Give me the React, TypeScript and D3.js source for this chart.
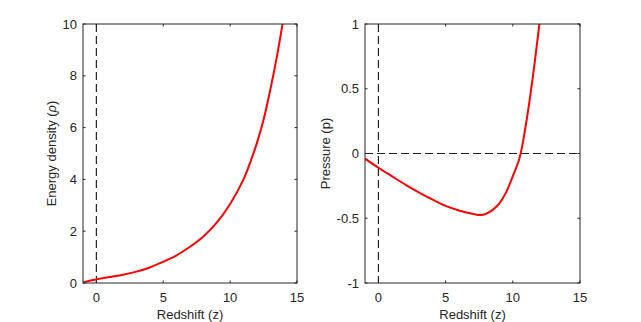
import React from 'react';
import * as d3 from 'd3';

const W = 641;
const H = 322;

// tick values
const zTicks = [0, 5, 10, 15];
const rhoTicks = [0, 2, 4, 6, 8, 10];
const pTicks = [-1, -0.5, 0, 0.5, 1];

// energy density vs redshift
const rhoZ = [-1, -0.5, 0, 1, 2, 3, 4, 5, 6, 7, 8, 9, 10, 11, 11.5, 12, 12.5, 13, 13.5, 14];
const rhoVals = [0.02, 0.09, 0.14, 0.23, 0.32, 0.44, 0.6, 0.82, 1.07, 1.4, 1.8, 2.33, 3.05, 4.0, 4.65, 5.4, 6.3, 7.45, 8.75, 10.25];

// pressure vs redshift
const pZ = [-1, 0, 1, 2, 3, 4, 5, 6, 7, 7.6, 8, 8.5, 9, 9.5, 10, 10.5, 11, 11.5, 12];
const pVals = [-0.04, -0.11, -0.175, -0.24, -0.3, -0.355, -0.405, -0.44, -0.465, -0.475, -0.466, -0.435, -0.385, -0.3, -0.175, -0.035, 0.24, 0.6, 1.02];

const FONT = '"Liberation Sans", Arial, Helvetica, sans-serif';
const INK = '#262626';

type PanelProps = {
  id: string;
  x0: number;
  x1: number;
  yDomain: [number, number];
  yTicks: number[];
  xs: number[];
  ys: number[];
  yLabel: React.ReactNode;
  yLabelX: number;
  zeroLine?: boolean;
};

const Panel = ({ id, x0, x1, yDomain, yTicks, xs, ys, yLabel, yLabelX, zeroLine }: PanelProps) => {
  const top = 24;
  const bottom = 283;
  const x = d3.scaleLinear().domain([-1, 15]).range([x0, x1]);
  const y = d3.scaleLinear().domain(yDomain).range([bottom, top]);
  const pts = xs.map((z, i) => [z, ys[i]] as [number, number]);
  const line = d3.line<[number, number]>()
    .x(d => x(d[0]))
    .y(d => y(d[1]))
    .curve(d3.curveCatmullRom.alpha(0.5));
  const tl = 2.5;

  return (
    <g>
      <defs>
        <clipPath id={id}>
          <rect x={x0} y={top} width={x1 - x0} height={bottom - top} />
        </clipPath>
      </defs>
      {/* dashed reference lines */}
      <line x1={x(0)} x2={x(0)} y1={top} y2={bottom} stroke="#222" strokeWidth={1.2} strokeDasharray="8,4" />
      {zeroLine && (
        <line x1={x0} x2={x1} y1={y(0)} y2={y(0)} stroke="#222" strokeWidth={1.2} strokeDasharray="8,4" />
      )}
      <path d={line(pts) || ''} fill="none" stroke="#ff0000" strokeWidth={2} clipPath={`url(#${id})`} />
      {/* box */}
      <rect x={x0} y={top} width={x1 - x0} height={bottom - top} fill="none" stroke={INK} strokeWidth={1} />
      {zTicks.map(t => (
        <g key={'x' + t}>
          <line x1={x(t)} x2={x(t)} y1={bottom} y2={bottom - tl} stroke={INK} />
          <line x1={x(t)} x2={x(t)} y1={top} y2={top + tl} stroke={INK} />
          <text x={x(t)} y={302} textAnchor="middle" fontSize={13} fill={INK}>{t}</text>
        </g>
      ))}
      {yTicks.map(t => (
        <g key={'y' + t}>
          <line x1={x0} x2={x0 + tl} y1={y(t)} y2={y(t)} stroke={INK} />
          <line x1={x1} x2={x1 - tl} y1={y(t)} y2={y(t)} stroke={INK} />
          <text x={x0 - 6} y={y(t) + 4.6} textAnchor="end" fontSize={13} fill={INK}>{t}</text>
        </g>
      ))}
      <text x={(x0 + x1) / 2} y={319} textAnchor="middle" fontSize={13} fill={INK}>Redshift (z)</text>
      <text transform={`translate(${yLabelX},${(top + bottom) / 2}) rotate(-90)`} textAnchor="middle" fontSize={13} fill={INK}>
        {yLabel}
      </text>
    </g>
  );
};

export default function App() {
  return (
    <div style={{ position: 'fixed', left: 0, top: 0 }}>
      <svg width={W} height={H} style={{ display: 'block', background: '#fff', fontFamily: FONT }}>
        <Panel
          id="clipL"
          x0={83}
          x1={297}
          yDomain={[0, 10]}
          yTicks={rhoTicks}
          xs={rhoZ}
          ys={rhoVals}
          yLabelX={56}
          yLabel={<>Energy density (<tspan fontStyle="italic">ρ</tspan>)</>}
        />
        <Panel
          id="clipR"
          x0={365}
          x1={580}
          yDomain={[-1, 1]}
          yTicks={pTicks}
          xs={pZ}
          ys={pVals}
          yLabelX={329.5}
          yLabel="Pressure (p)"
          zeroLine
        />
      </svg>
    </div>
  );
}
